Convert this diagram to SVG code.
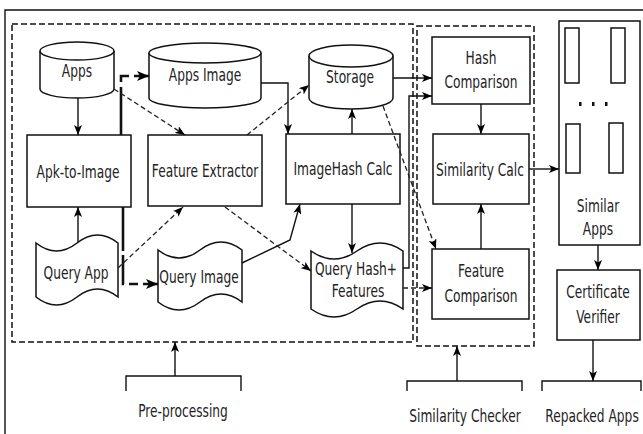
<svg xmlns="http://www.w3.org/2000/svg" width="643" height="434" viewBox="0 0 643 434">
<style>
.bg{fill:#fff}
.sh{fill:#fff;stroke:#111;stroke-width:1.5}
.dbox{fill:none;stroke:#111;stroke-width:1.5;stroke-dasharray:6,3}
.ln{fill:none;stroke:#111;stroke-width:1.4}
.dl{fill:none;stroke:#222;stroke-width:1.3;stroke-dasharray:5,3}
.tk{fill:none;stroke:#111;stroke-width:2.6}
.t{font-family:"DejaVu Sans","Liberation Sans",sans-serif;font-size:17px;fill:#222;text-anchor:middle}
</style>
<defs>
<marker id="ah" viewBox="0 0 10 8" refX="10" refY="4" markerWidth="10" markerHeight="8" markerUnits="userSpaceOnUse" orient="auto"><path d="M0,0 L10,4 L0,8 L2.5,4 Z" fill="#000"/></marker>
<marker id="ahb" viewBox="0 0 12 10" refX="12" refY="5" markerWidth="12" markerHeight="10" markerUnits="userSpaceOnUse" orient="auto"><path d="M0,0 L12,5 L0,10 L3,5 Z" fill="#000"/></marker>
</defs>
<rect class="bg" x="0" y="0" width="643" height="434"/>
<g id="frame"><path class="ln" d="M5,434 V10 H643"/></g>

<g id="preprocessing">
<rect class="dbox" x="12" y="24" width="401" height="318"/>
<path class="ln" d="M126,391 V376 H241 V391"/>
<text class="t" transform="translate(183,417) scale(.72,1)">Pre-processing</text>
</g>
<g id="similarity-checker">
<rect class="dbox" x="417" y="26" width="117" height="320"/>
<path class="ln" d="M407,391 V381 H522 V391"/>
<text class="t" transform="translate(465,422) scale(.72,1)">Similarity Checker</text>
</g>
<g id="repacked-apps">
<path class="ln" d="M542,391 V381 H641 V391"/>
<text class="t" transform="translate(592,422) scale(.72,1)">Repacked Apps</text>
</g>

<g id="apps">
<path class="sh" d="M40,51 A37,9 0 0 1 114,51 V89 A37,9 0 0 1 40,89 Z"/>
<path class="sh" d="M40,51 A37,9 0 0 0 114,51"/>
<text class="t" transform="translate(77,77) scale(.72,1)">Apps</text>
</g>
<g id="apps-image">
<path class="sh" d="M149,53 A56,10 0 0 1 261,53 V98 A56,10 0 0 1 149,98 Z"/>
<path class="sh" d="M149,53 A56,10 0 0 0 261,53"/>
<text class="t" transform="translate(205,81) scale(.72,1)">Apps Image</text>
</g>
<g id="storage">
<path class="sh" d="M309,56 A42,11 0 0 1 393,56 V98 A42,11 0 0 1 309,98 Z"/>
<path class="sh" d="M309,56 A42,11 0 0 0 393,56"/>
<text class="t" transform="translate(350,83) scale(.72,1)">Storage</text>
</g>
<g id="apk-to-image">
<rect class="sh" x="27" y="135" width="104" height="72"/>
<text class="t" transform="translate(78,178) scale(.72,1)">Apk-to-Image</text>
</g>
<g id="feature-extractor">
<rect class="sh" x="148" y="135" width="114" height="71"/>
<text class="t" transform="translate(205,177) scale(.72,1)">Feature Extractor</text>
</g>
<g id="imagehash-calc">
<rect class="sh" x="286" y="134" width="114" height="70"/>
<text class="t" transform="translate(343,175) scale(.72,1)">ImageHash Calc</text>
</g>
<g id="query-app">
<path class="sh" d="M36,243 Q56.5,259 77,243 T118,243 V297 Q97.5,281 77,297 T36,297 Z"/>
<text class="t" transform="translate(76,279) scale(.72,1)">Query App</text>
</g>
<g id="query-image">
<path class="sh" d="M158,250 Q179,266 200,250 T242,250 V302 Q221,286 200,302 T158,302 Z"/>
<text class="t" transform="translate(199,283) scale(.72,1)">Query Image</text>
</g>
<g id="query-hash-features">
<path class="sh" d="M311,251 Q334,267 357,251 T403,251 V309 Q380,293 357,309 T311,309 Z"/>
<text class="t" transform="translate(356,275) scale(.72,1)">Query Hash+</text>
<text class="t" transform="translate(358,297) scale(.72,1)">Features</text>
</g>
<g id="hash-comparison">
<rect class="sh" x="432" y="37" width="98" height="67"/>
<text class="t" transform="translate(481,64) scale(.72,1)">Hash</text>
<text class="t" transform="translate(481,88) scale(.72,1)">Comparison</text>
</g>
<g id="similarity-calc">
<rect class="sh" x="433" y="134" width="96" height="70"/>
<text class="t" transform="translate(480,176) scale(.72,1)">Similarity Calc</text>
</g>
<g id="feature-comparison">
<rect class="sh" x="432" y="249" width="97" height="70"/>
<text class="t" transform="translate(481,277) scale(.72,1)">Feature</text>
<text class="t" transform="translate(481,302) scale(.72,1)">Comparison</text>
</g>
<g id="similar-apps">
<rect class="sh" x="559" y="21" width="81" height="224"/>
<rect class="sh" x="565" y="28" width="14" height="55"/>
<rect class="sh" x="611" y="28" width="14" height="55"/>
<rect class="sh" x="566" y="124" width="14" height="49"/>
<rect class="sh" x="609" y="123" width="14" height="50"/>
<rect x="579" y="102" width="2.5" height="4" fill="#111"/>
<rect x="592" y="102" width="2.5" height="4" fill="#111"/>
<rect x="605" y="102" width="2.5" height="4" fill="#111"/>
<text class="t" transform="translate(598,212) scale(.72,1)">Similar</text>
<text class="t" transform="translate(598,235) scale(.72,1)">Apps</text>
</g>
<g id="certificate-verifier">
<rect class="sh" x="557" y="270" width="83" height="70"/>
<text class="t" transform="translate(598,298) scale(.72,1)">Certificate</text>
<text class="t" transform="translate(598,323) scale(.72,1)">Verifier</text>
</g>

<g id="connectors">
<path class="ln" marker-end="url(#ah)" d="M78,98 V135"/>
<path class="tk" marker-end="url(#ahb)" style="stroke-dasharray:48,5,14,5" d="M121,135 V76 H149"/>
<path class="tk" marker-end="url(#ahb)" style="stroke-dasharray:44,4,30,5,9,5" d="M123,207 V284 H158"/>
<path class="dl" marker-end="url(#ah)" d="M114,89 L185,135"/>
<path class="ln" marker-end="url(#ah)" d="M78,242 V207"/>
<path class="dl" marker-end="url(#ah)" d="M118,268 L183,207"/>
<path class="ln" marker-end="url(#ah)" d="M261,83 H288 V134"/>
<path class="dl" marker-end="url(#ah)" d="M247,135 L309,85"/>
<path class="ln" marker-end="url(#ah)" d="M352,134 V109"/>
<path class="ln" marker-end="url(#ah)" d="M242,263 L290,240 L300,204"/>
<path class="dl" marker-end="url(#ah)" d="M225,207 L311,271"/>
<path class="ln" marker-end="url(#ah)" d="M352,204 V253"/>
<path class="ln" marker-end="url(#ah)" d="M393,78 H432"/>
<path class="ln" marker-end="url(#ah)" d="M403,268 H409 V96 H432"/>
<path class="dl" marker-end="url(#ah)" d="M383,106 L436,249"/>
<path class="dl" marker-end="url(#ah)" d="M403,288 H432"/>
<path class="ln" marker-end="url(#ah)" d="M481,104 V134"/>
<path class="ln" marker-end="url(#ah)" d="M481,249 V204"/>
<path class="ln" marker-end="url(#ah)" d="M529,169 H559"/>
<path class="ln" marker-end="url(#ah)" d="M598,245 V270"/>
<path class="ln" marker-end="url(#ah)" d="M593,340 V381"/>
<path class="ln" marker-end="url(#ah)" d="M175,376 V342"/>
<path class="ln" marker-end="url(#ah)" d="M457,381 V346"/>
</g>
</svg>
